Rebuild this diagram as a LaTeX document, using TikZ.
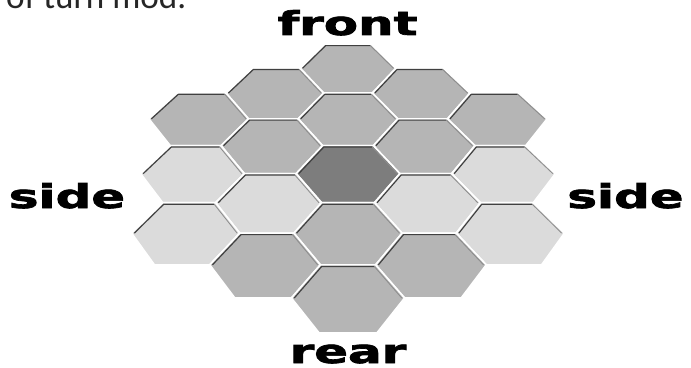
\documentclass[tikz,border=0pt]{standalone}
\usepackage{fontspec}
\usepackage{graphicx}
\newfontfamily\labelfont{DejaVu Sans}[BoldFeatures={FakeBold=2}]
\newfontfamily\bodyfont{Carlito}
\definecolor{hexmid}{gray}{0.71}
\definecolor{hexpale}{gray}{0.86}
\definecolor{hexdeep}{gray}{0.49}
\newcommand\widetext[1]{\scalebox{1.52}[1]{#1}}
\tikzset{
  declare function={
    dd(\w)=1-(\w)/23.93;
    pY(\w)=1365.6/dd(\w)-1192;
    pX(\u,\w)=348+89.8*(\u)/dd(\w);
  },
  viewword/.style={font=\labelfont\bfseries\fontsize{28}{30}\selectfont, inner sep=0pt, anchor=base},
  hexcell/.style={draw=white, line width=1.4pt, line join=round},
}

\begin{document}
\begin{tikzpicture}[x=0.03cm, y=-0.03cm]
    \useasboundingbox (0,0) rectangle (691,368);
    \clip (0,0) rectangle (691,368);

    % riga di testo precedente, tagliata
    \node[anchor=base west, inner sep=0pt, font=\bodyfont\fontsize{30}{36}\selectfont, text=black!85] (prev) at (6,9) {of turn mod.};

    % celle esagonali, dal fondo verso chi guarda
    \foreach \k/\w/\c in {0/-2/hexmid, -1/-1.5/hexmid, 1/-1.5/hexmid,
                          0/-1/hexmid, -2/-1/hexmid, 2/-1/hexmid,
                          -1/-0.5/hexmid, 1/-0.5/hexmid,
                          0/0/hexdeep, -2/0/hexpale, 2/0/hexpale,
                          -1/0.5/hexpale, 1/0.5/hexpale,
                          0/1/hexmid, -2/1/hexpale, 2/1/hexpale,
                          -1/1.5/hexmid, 1/1.5/hexmid,
                          0/2/hexmid} {
        \pgfmathsetmacro\uc{0.866*\k}
        \filldraw[hexcell, fill=\c]
            ({pX(\uc-0.5774,\w)},{pY(\w)}) -- ({pX(\uc-0.2887,\w-0.5)},{pY(\w-0.5)})
            -- ({pX(\uc+0.2887,\w-0.5)},{pY(\w-0.5)}) -- ({pX(\uc+0.5774,\w)},{pY(\w)})
            -- ({pX(\uc+0.2887,\w+0.5)},{pY(\w+0.5)}) -- ({pX(\uc-0.2887,\w+0.5)},{pY(\w+0.5)}) -- cycle;
        % ombra sul bordo superiore
        \draw[black!75, line width=1pt, line join=round]
            ({pX(\uc-0.5485,\w)},{pY(\w)}) -- ({pX(\uc-0.2743,\w-0.475)},{pY(\w-0.475)})
            -- ({pX(\uc+0.2743,\w-0.475)},{pY(\w-0.475)});
        \draw[black!45, line width=0.7pt]
            ({pX(\uc+0.2743,\w-0.475)},{pY(\w-0.475)}) -- ({pX(\uc+0.5485,\w)},{pY(\w)});
    }

    % etichette
    \node[viewword] (front) at (347.5,35) {\widetext{front}};
    \node[viewword] (sideL) at (67,208) {\widetext{side}};
    \node[viewword] (sideR) at (625.5,208) {\widetext{side}};
    \node[viewword] (rear) at (348,363) {\widetext{rear}};
\end{tikzpicture}
\end{document}
